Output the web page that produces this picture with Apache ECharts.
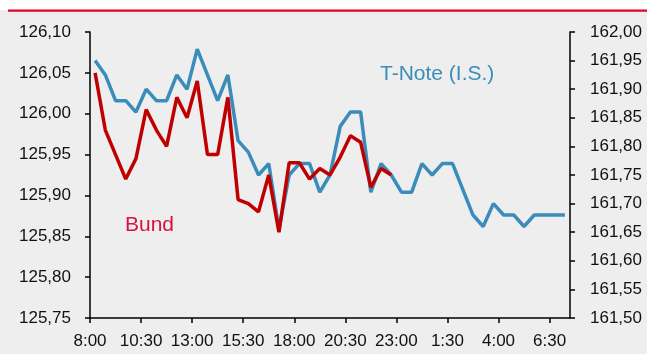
<!DOCTYPE html>
<html>
<head>
<meta charset="utf-8">
<script src="https://cdn.jsdelivr.net/npm/echarts@6/dist/echarts.min.js"></script>
<style>
  html, body { margin: 0; padding: 0; background: #eeeeee; }
  #chart { width: 647px; height: 354px; }
</style>
</head>
<body>
<div id="chart"></div>
<script>
// Half-hour sessions from 8:00 to 7:00 the next morning
const times = [
  '8:00','8:30','9:00','9:30','10:00','10:30','11:00','11:30','12:00','12:30',
  '13:00','13:30','14:00','14:30','15:00','15:30','16:00','16:30','17:00','17:30',
  '18:00','18:30','19:00','19:30','20:00','20:30','21:00','21:30','22:00','22:30',
  '23:00','23:30','0:00','0:30','1:00','1:30','2:00','2:30','3:00','3:30',
  '4:00','4:30','5:00','5:30','6:00','6:30','7:00'
];

// T-Note future price (right axis)
const tnote = [
  161.95, 161.925, 161.88, 161.88, 161.86, 161.90, 161.88, 161.88, 161.925, 161.90,
  161.97, 161.925, 161.88, 161.925, 161.81, 161.79, 161.75, 161.77, 161.655, 161.75,
  161.77, 161.77, 161.72, 161.75, 161.835, 161.86, 161.86, 161.72, 161.77, 161.75,
  161.72, 161.72, 161.77, 161.75, 161.77, 161.77, 161.725, 161.68, 161.66, 161.70,
  161.68, 161.68, 161.66, 161.68, 161.68, 161.68, 161.68
];

// Bund future price (left axis), session ends at 22:30
const bund = [
  126.05, 125.98, 125.95, 125.92, 125.945, 126.005, 125.98, 125.96, 126.02, 125.995,
  126.04, 125.95, 125.95, 126.02, 125.895, 125.89, 125.88, 125.925, 125.855, 125.94,
  125.94, 125.92, 125.933, 125.925, 125.947, 125.973, 125.965, 125.91, 125.933, 125.925
];

const leftTicks = { min: 125.75, max: 126.10, step: 0.05 };
const rightTicks = { min: 161.50, max: 162.00, step: 0.05 };
const labelEvery = 5;

const BLUE = '#3a8dba';
const RED = '#c00000';
const FONT = '"Liberation Sans", Arial, sans-serif';

const xTickValues = [];
for (let i = 0; i < times.length; i += labelEvery) xTickValues.push(i);

const toPairs = arr => arr.map((v, i) => [i + 0.5, v]);
const comma = v => v.toFixed(2).replace('.', ',');

const chart = echarts.init(document.getElementById('chart'), null, { renderer: 'canvas' });

const axisLineStyle = { color: '#000', width: 1.5 };

chart.setOption({
  animation: false,
  backgroundColor: '#eeeeee',
  textStyle: { fontFamily: FONT },
  grid: { left: 90, right: 77, top: 32, bottom: 36, outerBoundsMode: 'none' },
  xAxis: {
    type: 'value',
    min: 0,
    max: times.length,
    interval: labelEvery,
    splitLine: { show: false },
    axisLine: { lineStyle: axisLineStyle },
    axisTick: { show: true, length: 5, inside: false, lineStyle: axisLineStyle, customValues: xTickValues },
    axisLabel: {
      customValues: xTickValues,
      formatter: v => times[Math.round(v)] || '',
      color: '#111', fontSize: 17, fontFamily: FONT, margin: 15
    }
  },
  yAxis: [
    {
      type: 'value', position: 'left',
      min: leftTicks.min, max: leftTicks.max, interval: leftTicks.step,
      splitLine: { show: false },
      axisLine: { show: true, lineStyle: axisLineStyle },
      axisTick: { show: true, length: 5, lineStyle: axisLineStyle },
      axisLabel: { formatter: comma, color: '#111', fontSize: 17, fontFamily: FONT, margin: 19 }
    },
    {
      type: 'value', position: 'right',
      min: rightTicks.min, max: rightTicks.max, interval: rightTicks.step,
      splitLine: { show: false },
      axisLine: { show: true, lineStyle: axisLineStyle },
      axisTick: { show: true, length: 5, lineStyle: axisLineStyle },
      axisLabel: { formatter: comma, color: '#111', fontSize: 17, fontFamily: FONT, margin: 20 }
    }
  ],
  series: [
    {
      name: 'T-Note (I.S.)', type: 'line', yAxisIndex: 1,
      data: toPairs(tnote), showSymbol: false,
      lineStyle: { color: BLUE, width: 3.5 }
    },
    {
      name: 'Bund', type: 'line', yAxisIndex: 0,
      data: toPairs(bund), showSymbol: false,
      lineStyle: { color: RED, width: 3.5 }
    }
  ],
  graphic: [
    { type: 'rect', shape: { x: 0, y: 0, width: 647, height: 10 }, style: { fill: '#ffffff' }, silent: true },
    { type: 'rect', shape: { x: 8, y: 9.5, width: 639, height: 2.2 }, style: { fill: '#e4002b' }, silent: true },
    {
      type: 'text', x: 380, y: 74,
      style: { text: 'T-Note (I.S.)', fill: BLUE, font: '21px ' + FONT, verticalAlign: 'middle', align: 'left' }
    },
    {
      type: 'text', x: 125, y: 225,
      style: { text: 'Bund', fill: '#d8123b', font: '21px ' + FONT, verticalAlign: 'middle', align: 'left' }
    }
  ]
});
</script>
</body>
</html>
